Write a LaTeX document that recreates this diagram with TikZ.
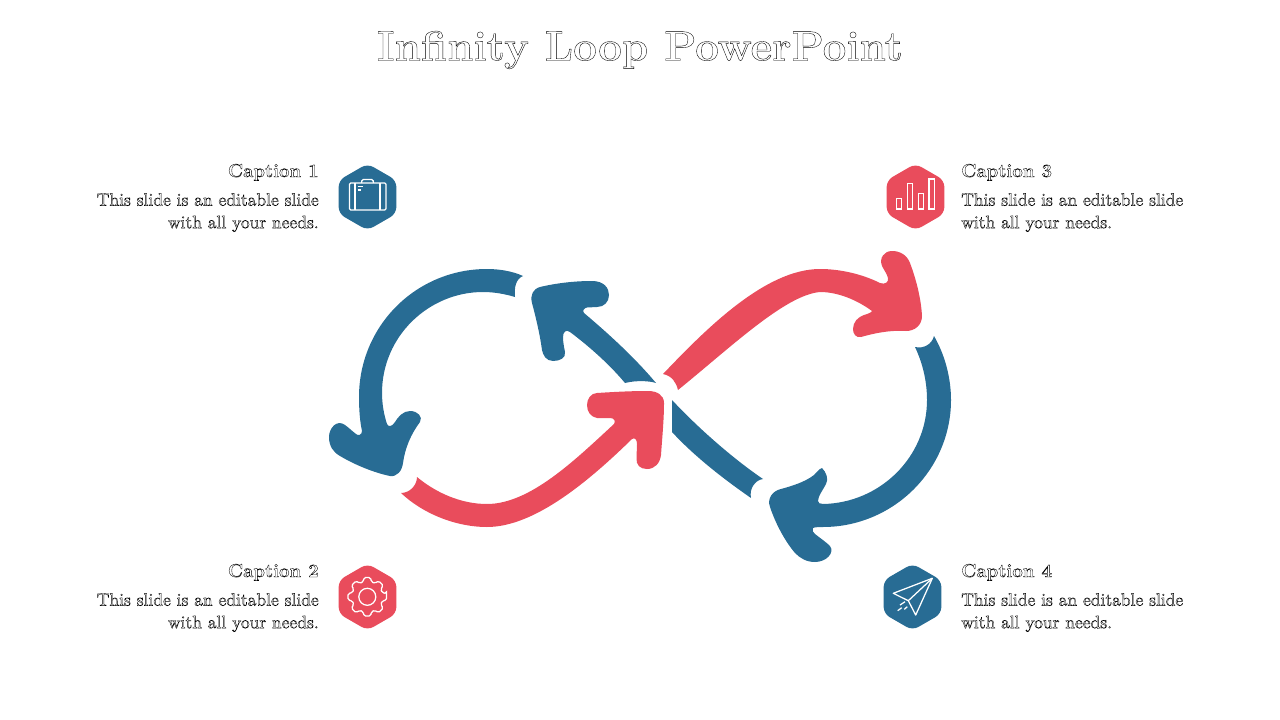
\documentclass[tikz,border=0pt]{standalone}
\usepackage{fontspec}
\usetikzlibrary{shapes.geometric}
\definecolor{loopblue}{RGB}{40,108,148}
\definecolor{loopred}{RGB}{233,76,92}
\tikzset{
  hexa/.style={regular polygon, regular polygon sides=6, shape border rotate=30, minimum size=50pt, inner sep=0pt, rounded corners=5pt},
  icon/.style={draw=white, line width=0.95pt},
  outlined/.style={execute at begin node=\special{pdf:code 1 Tr 0.27 w}},
  caption/.style={outlined, inner sep=0pt, font=\fontsize{14}{16}\selectfont\bfseries},
  body/.style={outlined, inner sep=0pt, font=\fontsize{13.4}{16.9}\selectfont}
}
\begin{document}
\begin{tikzpicture}[x=0.75pt, y=-0.75pt]
\useasboundingbox (0,0) rectangle (1280,720);
% title
\node[outlined, inner sep=0pt, font=\fontsize{31.6}{36}\selectfont\bfseries] (title) at (640,50) {Infinity Loop PowerPoint};
% blue, left circle
\fill[loopblue] (523,276) .. controls (512,271) and (499,269) .. (487,269)
 .. controls (416,269) and (359,326) .. (359,397)
 .. controls (359,410) and (360,422) .. (362,431)
 .. controls (362,435) and (358,436) .. (356,434)
 .. controls (352,431) and (348,427) .. (345,425)
 .. controls (337,419) and (329,428) .. (329,437)
 .. controls (329,446) and (333,452) .. (340,456)
 .. controls (355,465) and (375,473) .. (390,476)
 .. controls (397,477) and (402,471) .. (403,463)
 .. controls (405,448) and (411,434) .. (420,422)
 .. controls (423,417) and (418,411) .. (410,411)
 .. controls (403,411) and (398,417) .. (395,422)
 .. controls (392,427) and (388,427) .. (387,424)
 .. controls (384,415) and (382,404) .. (382,393)
 .. controls (382,336) and (429,292) .. (483,292)
 .. controls (494,292) and (505,294) .. (515,297)
 .. controls (514,287) and (516,279) .. (523,276) -- cycle;
% blue, up to the left
\fill[loopblue] (532,303) .. controls (530,295) and (533,289) .. (540,287)
 .. controls (557,283) and (575,281) .. (592,281)
 .. controls (604,281) and (609,288) .. (609,295)
 .. controls (609,302) and (604,307) .. (597,307)
 -- (587,307.5) .. controls (584,308) and (582,311) .. (584,313)
 .. controls (610,335) and (635,358) .. (656,383)
 .. controls (650,381) and (637,380) .. (625,383)
 .. controls (610,365) and (590,347) .. (570,332)
 .. controls (566,329) and (563,332) .. (563,337)
 .. controls (563,342) and (564,347) .. (565,352)
 .. controls (566,358) and (560,361) .. (553,361)
 .. controls (546,361) and (543,355) .. (542,350)
 .. controls (540,335) and (536,318) .. (532,303) -- cycle;
% red, bottom to centre
\fill[loopred] (401,493) .. controls (422,513) and (455,527) .. (487,527)
 .. controls (535,527) and (590,480) .. (632,439)
 .. controls (635,437) and (637,440) .. (637,444)
 -- (636.5,458) .. controls (636,465) and (640,469) .. (647,469)
 .. controls (655,469) and (660,463) .. (661,455)
 .. controls (662,440) and (664,420) .. (664,403)
 .. controls (664,395) and (657,391) .. (648,391)
 .. controls (630,391) and (613,392) .. (597,393)
 .. controls (591,393) and (587,399) .. (587,405)
 .. controls (587,412) and (591,417) .. (597,418)
 -- (610,418) .. controls (614,418) and (616,421) .. (614,424)
 .. controls (575,460) and (530,504) .. (487,504)
 .. controls (460,504) and (435,492) .. (417,477)
 .. controls (417,485) and (410,493) .. (401,493) -- cycle;
% red, centre to top right
\fill[loopred] (663,374) .. controls (705,330) and (765,269) .. (820,269)
 .. controls (840,269) and (862,274) .. (880,283)
 .. controls (885,285) and (889,282) .. (888,278)
 .. controls (887,274) and (884,270) .. (882,266)
 .. controls (879,258) and (884,251) .. (892,251)
 .. controls (900,251) and (907,255) .. (910,263)
 .. controls (916,279) and (921,298) .. (922,316)
 .. controls (922,325) and (915,331) .. (906,331)
 .. controls (890,330) and (875,333) .. (861,337)
 .. controls (856,338) and (853,334) .. (853,329)
 .. controls (853,322) and (858,317) .. (864,315)
 .. controls (868,314) and (872,312) .. (872,311)
 .. controls (857,300) and (838,292) .. (820,292)
 .. controls (785,295) and (730,348) .. (678,390)
 .. controls (676,382) and (672,376) .. (663,374) -- cycle;
% blue, short piece from the centre
\fill[loopblue] (672,400) .. controls (700,430) and (735,460) .. (763,479)
 .. controls (755,480) and (749,489) .. (751,498)
 .. controls (725,480) and (695,457) .. (672,432) -- cycle;
% blue, right circle
\fill[loopblue] (934,336) .. controls (945,355) and (951,378) .. (951,400)
 .. controls (951,470) and (893,527) .. (823,527)
 .. controls (820,527) and (815,527) .. (813,528)
 .. controls (812,530) and (813,533) .. (815,534)
 .. controls (820,538) and (826,542) .. (830,546)
 .. controls (835,553) and (826,562) .. (815,562)
 .. controls (806,562) and (800,558) .. (795,553)
 .. controls (784,540) and (775,522) .. (770,507)
 .. controls (767,499) and (772,491) .. (781,489)
 .. controls (792,486) and (805,482) .. (814,475)
 .. controls (817,472) and (819,469) .. (822,468)
 .. controls (826,472) and (829,479) .. (826,484)
 .. controls (823,490) and (818,496) .. (818,501)
 .. controls (818,503) and (820,504) .. (823,504)
 .. controls (880,503) and (927,457) .. (927,400)
 .. controls (927,382) and (923,364) .. (915,347)
 .. controls (924,349) and (932,344) .. (934,336) -- cycle;
% hexagons
\node[hexa, fill=loopblue] (hexa1) at (367.5,197) {};
\node[hexa, fill=loopred] (hexa2) at (367.5,597) {};
\node[hexa, fill=loopred] (hexa3) at (915.5,197) {};
\node[hexa, fill=loopblue] (hexa4) at (912.5,597) {};
% case
\begin{scope}[shift={(367.5,197)}]
\draw[icon, rounded corners=1pt] (-18,-14) rectangle (18.5,13);
\draw[icon, rounded corners=1pt] (-6,-14) -- (-5.5,-17.5) -- (5.5,-17.5) -- (6,-14);
\draw[icon] (-12.5,-14) -- (-12.5,13);
\draw[icon] (12.5,-14) -- (12.5,13);
\draw[icon] (-10,-10.5) -- (-5,-10.5);
\draw[icon] (-10,-7) -- (-7,-7);
\end{scope}
% gear
\begin{scope}[shift={(367.3,596.8)}]
\draw[icon, rounded corners=1.2pt] (-10:19.5) foreach \a in {0,45,...,315} {-- (\a-10:19.5) -- (\a+10:19.5) -- (\a+15:15.5) -- (\a+30:15.5)} -- cycle;
\draw[icon] (0,0) circle (8.5);
\end{scope}
% bars
\begin{scope}[shift={(915.5,197)}]
\draw[icon] (-18.8,1.3) rectangle (-13.8,12);
\draw[icon] (-8.2,-13.7) rectangle (-3.2,12);
\draw[icon] (2.8,-3.7) rectangle (7.8,12);
\draw[icon] (13.5,-18) rectangle (18.8,12);
\end{scope}
% plane
\begin{scope}[shift={(912.5,597)}]
\draw[icon, line join=round] (19.8,-18.7) -- (-19.2,-3.7) -- (-4.2,3.7) -- (3.2,18) -- cycle;
\draw[icon] (-4.2,3.7) -- (19.8,-18.7);
\draw[icon] (-12.5,8) -- (-7.5,4.7);
\draw[icon] (-14.8,13.7) -- (-10.8,10.7);
\draw[icon] (-8.2,12.3) -- (-5.2,9.7);
\end{scope}
% captions
\node[caption, anchor=base east] (cap1) at (319,177) {Caption \oldstylenums{1}};
\node[caption, anchor=base east] (cap2) at (319,577) {Caption \oldstylenums{2}};
\node[caption, anchor=base west] (cap3) at (961,177) {Caption \oldstylenums{3}};
\node[caption, anchor=base west] (cap4) at (961,577) {Caption \oldstylenums{4}};
\node[body, anchor=north east, align=right] (txt1) at (319,193) {This slide is an editable slide\\with all your needs.};
\node[body, anchor=north east, align=right] (txt2) at (319,593) {This slide is an editable slide\\with all your needs.};
\node[body, anchor=north west, align=left] (txt3) at (961,193) {This slide is an editable slide\\with all your needs.};
\node[body, anchor=north west, align=left] (txt4) at (961,593) {This slide is an editable slide\\with all your needs.};
\end{tikzpicture}
\end{document}
